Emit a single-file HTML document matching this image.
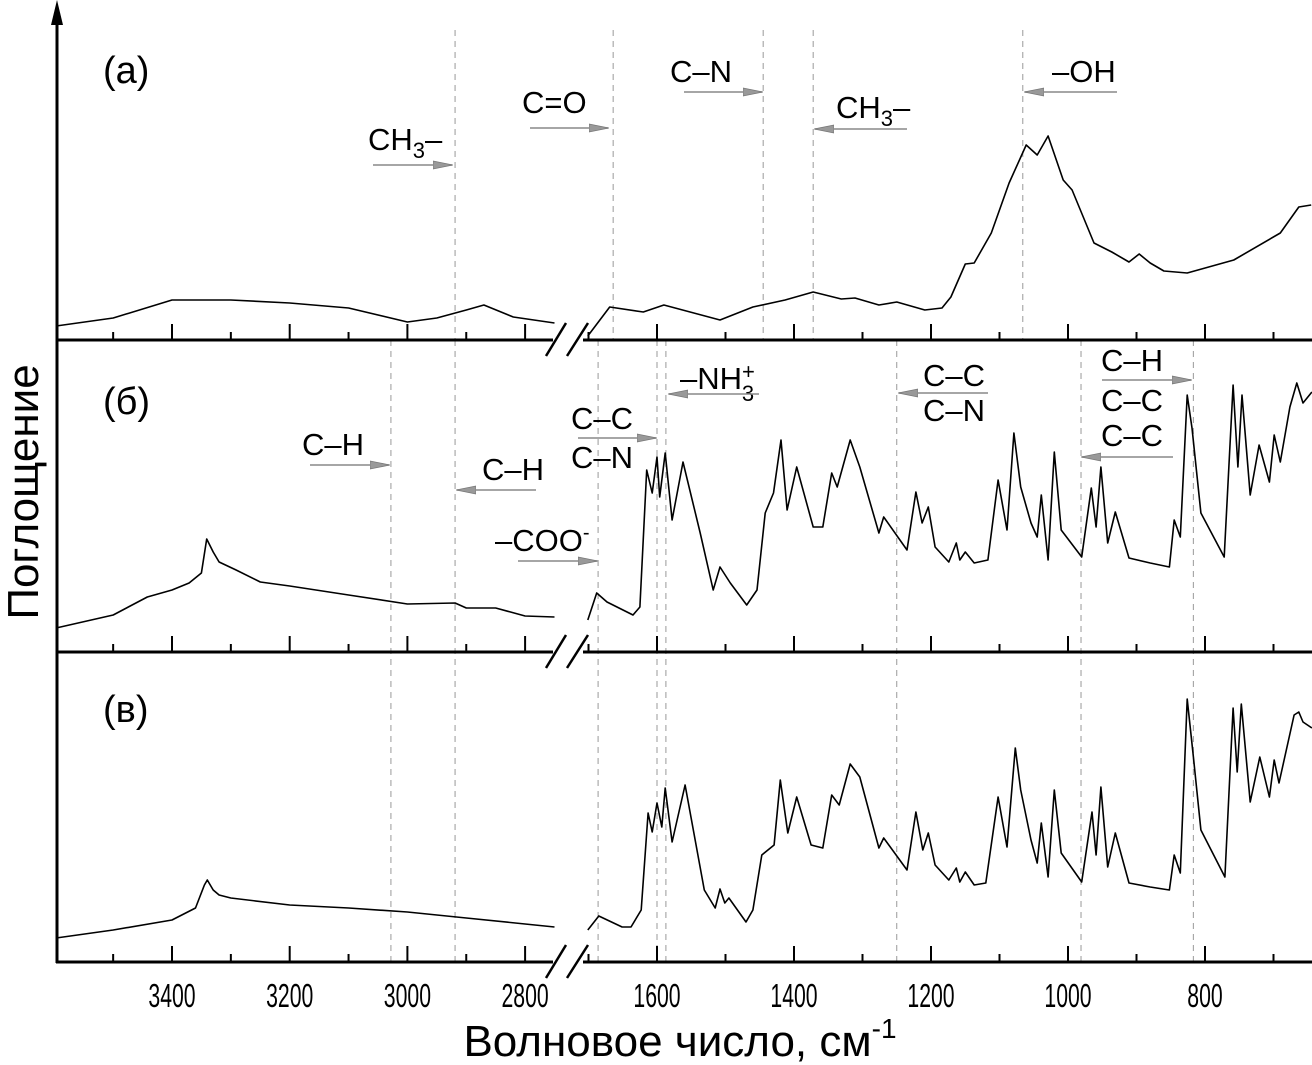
<!DOCTYPE html>
<html><head><meta charset="utf-8"><style>
html,body{margin:0;padding:0;background:#fff;}
svg{display:block;font-family:"Liberation Sans",sans-serif;}
</style></head><body>
<svg id="chart" width="1312" height="1065" viewBox="0 0 1312 1065" xmlns="http://www.w3.org/2000/svg">
<defs>
<marker id="ah" viewBox="0 0 20 10" refX="19" refY="5" markerWidth="20" markerHeight="10" markerUnits="userSpaceOnUse" orient="auto">
<path d="M0,1 L20,5 L0,9 Z" fill="#999" stroke="#777" stroke-width="0.8"/></marker>
</defs>
<g id="grid"></g><g id="curves"></g><g id="axes"></g><g id="ann"></g>
</svg>
<script>
// ---- data (wavenumber cm-1, absorbance a.u.) ----
const aLeftW=[3597,3500,3400,3300,3200,3100,3000,2950,2900,2870,2820,2750];
const aLeftV=[0.14,0.22,0.40,0.40,0.37,0.32,0.18,0.22,0.30,0.35,0.23,0.17];
const aRightW=[1701,1669,1620,1590,1508,1460,1413,1372,1331,1311,1276,1250,1209,1184,1171,1150,1137,1112,1086,1061,1045,1029,1007,994,962,936,911,896,880,860,826,758,690,663,645];
const aRightV=[0.04,0.33,0.28,0.35,0.20,0.33,0.40,0.48,0.41,0.42,0.35,0.38,0.30,0.32,0.43,0.76,0.77,1.07,1.57,1.95,1.85,2.04,1.60,1.50,0.97,0.88,0.78,0.86,0.77,0.69,0.67,0.80,1.07,1.33,1.35];
const bLeftW=[3597,3500,3442,3400,3371,3350,3341,3330,3320,3291,3250,3200,3100,3000,2919,2900,2850,2800,2750];
const bLeftV=[0.24,0.37,0.55,0.62,0.69,0.79,1.13,1.00,0.90,0.82,0.70,0.66,0.57,0.48,0.49,0.44,0.44,0.36,0.35];
const bRightW=[1701,1688,1673,1635,1625,1615,1607,1600,1596,1588,1578,1562,1537,1518,1508,1493,1469,1454,1442,1430,1419,1410,1396,1372,1358,1345,1337,1318,1304,1276,1269,1235,1222,1213,1204,1194,1174,1163,1158,1150,1137,1117,1102,1089,1079,1069,1054,1045,1039,1029,1020,1010,980,966,959,952,942,931,911,880,852,845,836,826,819,806,772,759,752,746,734,721,706,699,690,676,666,657,644];
const bRightV=[0.32,0.59,0.50,0.37,0.45,1.82,1.59,1.95,1.55,1.99,1.32,1.90,1.19,0.62,0.85,0.69,0.47,0.62,1.39,1.59,2.12,1.42,1.85,1.25,1.25,1.79,1.65,2.12,1.85,1.19,1.35,1.02,1.60,1.29,1.45,1.05,0.90,1.09,0.92,1.00,0.89,0.92,1.72,1.22,2.19,1.65,1.29,1.15,1.57,0.92,2.00,1.22,0.95,1.64,1.25,1.85,1.09,1.40,0.94,0.89,0.85,1.32,1.15,2.57,2.24,1.39,0.95,2.67,1.85,2.57,1.57,2.07,1.70,2.17,1.90,2.45,2.69,2.49,2.60];
const cLeftW=[3597,3500,3400,3360,3345,3340,3330,3320,3300,3200,3100,3000,2900,2800,2750];
const cLeftV=[0.24,0.32,0.42,0.54,0.77,0.82,0.72,0.67,0.64,0.57,0.54,0.50,0.44,0.38,0.35];
const cRightW=[1701,1685,1651,1638,1623,1613,1607,1600,1593,1588,1578,1559,1531,1515,1508,1501,1495,1470,1460,1447,1429,1420,1409,1396,1375,1358,1345,1334,1318,1304,1276,1269,1235,1222,1212,1204,1194,1174,1163,1158,1150,1137,1120,1102,1089,1077,1069,1054,1045,1039,1029,1020,1010,980,965,959,952,942,931,911,880,852,845,836,826,817,806,771,759,753,747,734,720,706,699,692,670,663,657,644];
const cRightV=[0.32,0.46,0.35,0.35,0.52,1.49,1.30,1.59,1.35,1.74,1.20,1.77,0.72,0.54,0.73,0.59,0.64,0.40,0.52,1.07,1.17,1.82,1.29,1.65,1.17,1.14,1.67,1.57,1.98,1.85,1.14,1.24,0.92,1.50,1.12,1.29,0.97,0.82,0.94,0.80,0.90,0.77,0.79,1.65,1.15,2.14,1.72,1.22,0.99,1.39,0.85,1.72,1.09,0.80,1.50,1.07,1.75,0.95,1.29,0.79,0.75,0.72,1.07,0.89,2.63,2.05,1.32,0.85,2.54,1.90,2.58,1.60,2.05,1.65,2.02,1.79,2.47,2.50,2.40,2.34];
const aGuides=[2919,1664,1445,1372,1066];
const bcGuides=[3028,2919,1686,1600,1587,1250,981,817];
const leftMajor=[3400,3200,3000,2800], leftMinor=[3500,3300,3100,2900];
const rightMajor=[1600,1400,1200,1000,800], rightMinor=[1700,1500,1300,1100,900,700];

// ---- axis functions ----
const xL=w=>172+(3400-w)*0.5885;
const xR=w=>657+(1600-w)*0.685;
const xW=w=>w>2000?xL(w):xR(w);
const bottoms=[340,652,962];
const yV=(p,v)=>bottoms[p]-v*100;
const NS='http://www.w3.org/2000/svg';
function mk(tag,attrs,parent){const e=document.createElementNS(NS,tag);for(const k in attrs)e.setAttribute(k,attrs[k]);parent.appendChild(e);return e;}
const G=id=>document.getElementById(id);

aGuides.forEach(w=>{const l=mk('line',{x1:xW(w),x2:xW(w),y1:30,y2:340,stroke:'#999','stroke-width':1,'stroke-dasharray':'6,5'},G('grid'));

});
bcGuides.forEach(w=>{const l=mk('line',{x1:xW(w),x2:xW(w),y1:340,y2:962,stroke:'#999','stroke-width':1,'stroke-dasharray':'6,5'},G('grid'));

});

const series=[[aLeftW,aLeftV,aRightW,aRightV],[bLeftW,bLeftV,bRightW,bRightV],[cLeftW,cLeftV,cRightW,cRightV]];
const names=['a','b','c'];
series.forEach((s,p)=>{
  [[s[0],s[1],xL],[s[2],s[3],xR]].forEach((q,i)=>{
    const d=q[0].map((w,j)=>(j?'L':'M')+q[2](w).toFixed(1)+','+yV(p,q[1][j]).toFixed(1)).join('');
    const path=mk('path',{d:d,fill:'none',stroke:'#000','stroke-width':1.6,'stroke-linejoin':'round'},G('curves'));
    
    
  });
});

const ax=G('axes');
const yaxis=mk('line',{x1:57,x2:57,y1:20,y2:963,stroke:'#000','stroke-width':3},ax);


const arr=mk('path',{d:'M57,0 L51,25 L63,25 Z',fill:'#000'},ax);


bottoms.forEach((b,p)=>{
  const l=mk('line',{x1:56,x2:1312,y1:b,y2:b,stroke:'#000','stroke-width':3},ax);
  
  
  const tk=(w,len)=>{const t=mk('line',{x1:xW(w),x2:xW(w),y1:b,y2:b-len,stroke:'#000','stroke-width':2},ax);
    
    };
  leftMajor.forEach(w=>tk(w,16));leftMinor.forEach(w=>tk(w,8));
  rightMajor.forEach(w=>tk(w,16));rightMinor.forEach(w=>tk(w,8));
  mk('rect',{x:553,y:b-2,width:30,height:4,fill:'#fff'},ax);
  [[546,566],[567,588]].forEach(s=>{const br=mk('line',{x1:s[0],y1:b+16,x2:s[1],y2:b-17,stroke:'#000','stroke-width':2.5},ax);
    
    });
});
leftMajor.concat(rightMajor).forEach(w=>{
  const s=String(w);
  const t=mk('text',{x:xW(w),y:1007,'text-anchor':'middle','font-size':33,textLength:s.length*11.8,lengthAdjust:'spacingAndGlyphs'},ax);
  t.textContent=s;
  
  
});
</script>
<script>
const A=document.getElementById('ann');
function txt(x,y,html,size,name,anchor){const t=document.createElementNS('http://www.w3.org/2000/svg','text');
t.setAttribute('x',x);t.setAttribute('y',y);t.setAttribute('font-size',size);t.setAttribute('text-anchor',anchor||'start');
t.innerHTML=html;A.appendChild(t);return t;}
function arrow(x1,x2,y){const l=document.createElementNS('http://www.w3.org/2000/svg','line');
l.setAttribute('x1',x1);l.setAttribute('x2',x2);l.setAttribute('y1',y);l.setAttribute('y2',y);
l.setAttribute('stroke','#888');l.setAttribute('stroke-width','1.5');l.setAttribute('marker-end','url(#ah)');A.appendChild(l);return l;}
const sub='<tspan font-size="22" dy="8">3</tspan><tspan dy="-8">–</tspan>';
const L=[
 [368,150,'CH'+sub,373,452,165],
 [522,113,'C=O',530,608,128],
 [670,82,'C–N',684,762,92],
 [836,118,'CH'+sub,907,815,129],
 [1052,82,'–OH',1117,1025,92],
 [302,455,'C–H',310,389,465],
 [482,480,'C–H',536,457,490],
 [495,551,'–COO<tspan font-size="20" dy="-12">-</tspan>',518,597,561],
 [571,429,'C–C',578,656,438],
 [680,389,'–NH<tspan font-size="22" dy="-10">+</tspan><tspan font-size="22" dx="-13" dy="22">3</tspan>',759,669,394],
 [923,386,'C–C',988,899,393],
 [1101,371,'C–H',1102,1191,380],
 [1101,411,'C–C',1173,1082,457]
];
L.forEach(r=>{const t=txt(r[0],r[1],r[2],31);


const a=arrow(r[3],r[4],r[5]);

});
const e1=txt(923,421,'C–N',31);


const e2=txt(571,468,'C–N',31);


const e3=txt(1101,446,'C–C',31);


[['(a)',83],['(б)',414],['(в)',722]].forEach(p=>{const t=txt(103,p[1],p[0],38);

});
const yt=txt(0,0,'Поглощение',44,'','middle');
yt.setAttribute('transform','translate(38,492) rotate(-90)');


const xt=txt(680,1056,'Волновое число, см<tspan font-size="28" dy="-18">-1</tspan>',44,'','middle');


</script>
</body></html>
